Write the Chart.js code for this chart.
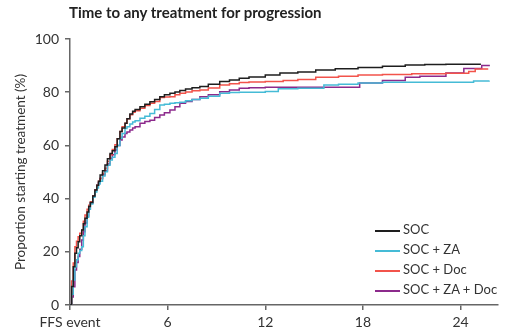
<!DOCTYPE html>
<html>
<head>
<meta charset="utf-8">
<script src="https://cdn.jsdelivr.net/npm/chart.js@4"></script>
<style>
  html, body { margin: 0; padding: 0; background: #fff; }
  #wrap { position: relative; width: 505px; height: 333px; font-family: Lato, "Open Sans", sans-serif; }
  #title { position: absolute; left: 69px; top: 3px; font-size: 15px; font-weight: bold; color: #222; }
  #legend { position: absolute; left: 375px; top: 219px; font-size: 13px; color: #333; }
  #legend div { height: 20px; line-height: 20px; white-space: nowrap; }
  #legend span.sw { display: inline-block; width: 25px; height: 2px; vertical-align: middle; margin-right: 3px; }
</style>
</head>
<body>
<div id="wrap">
  <canvas id="c" width="505" height="333"></canvas>
  <div id="title">Time to any treatment for progression</div>
  <div id="legend"></div>
</div>
<script>
// months since FFS event -> % starting treatment
const socT = [0, 0.1, 0.2, 0.3, 0.4, 0.5, 0.6, 0.72, 0.82, 0.92, 1.05, 1.15, 1.25, 1.4, 1.53, 1.65, 1.75, 1.85, 2.0, 2.15, 2.3, 2.46, 2.6, 2.76, 2.9, 3.07, 3.2, 3.38, 3.5, 3.68, 3.85, 4.0, 4.3, 4.6, 4.91, 5.2, 5.52, 5.8, 6.14, 6.45, 6.75, 7.1, 7.5, 7.98, 8.5, 9.2, 9.8, 10.4, 11.0, 12.0, 12.9, 14.0, 15.1, 16.3, 17.7, 19.2, 20.6, 21.8, 23.1, 25.25];
const socV = [0, 7, 14.4, 19.5, 21.5, 23.8, 26, 28.2, 30.5, 32.6, 35, 37, 38.5, 41, 43.2, 45, 46.5, 48.9, 50.5, 52.6, 55, 57, 58, 59.5, 62.5, 65.2, 66.5, 68.3, 70, 71.8, 72.8, 73.5, 74.5, 75.5, 76.4, 77.3, 78.3, 79, 79.6, 80.1, 80.6, 81.2, 81.7, 82.1, 83, 84, 84.6, 85.2, 85.7, 86.5, 87.2, 87.6, 88.3, 88.8, 89.3, 89.8, 90.2, 90.4, 90.5, 90.5];

const zaT = [0, 0.1, 0.2, 0.3, 0.4, 0.5, 0.6, 0.72, 0.82, 0.92, 1.05, 1.15, 1.25, 1.4, 1.53, 1.65, 1.75, 1.85, 2.0, 2.15, 2.3, 2.46, 2.6, 2.76, 2.9, 3.07, 3.2, 3.38, 3.5, 3.68, 3.85, 4.0, 4.3, 4.6, 4.91, 5.2, 5.52, 5.8, 6.14, 6.45, 6.75, 7.1, 7.5, 7.98, 8.5, 9.2, 9.8, 10.4, 11.0, 12.0, 12.8, 14.0, 15.6, 16.5, 17.7, 19.2, 23.1, 24.8, 25.75];
const zaV = [0, 4, 9.4, 14.4, 17, 19.5, 20.5, 21.9, 26, 29.4, 33, 36, 38, 40.5, 42.5, 44, 45.5, 46.5, 48.5, 50.1, 52.5, 54.5, 55.5, 57, 60, 62.7, 64.5, 66.4, 67, 68, 68.8, 69.3, 70.2, 71, 72, 73.5, 75.2, 75.5, 75.8, 76, 76.2, 76.8, 77.3, 77.7, 78.5, 79.6, 79.9, 80, 80, 80.3, 81.3, 81.5, 82.7, 83.0, 83.5, 83.7, 83.7, 84.2, 84.4];

const docT = [0, 0.1, 0.2, 0.3, 0.4, 0.5, 0.6, 0.72, 0.82, 0.92, 1.05, 1.15, 1.25, 1.4, 1.53, 1.65, 1.75, 1.85, 2.0, 2.15, 2.3, 2.46, 2.6, 2.76, 2.9, 3.07, 3.2, 3.38, 3.5, 3.68, 3.85, 4.0, 4.3, 4.6, 4.91, 5.2, 5.52, 5.8, 6.14, 6.45, 6.75, 7.1, 7.5, 7.98, 8.5, 9.2, 9.8, 10.4, 11.0, 12.0, 13.1, 14.0, 15.1, 16.5, 17.7, 19.2, 21.0, 23.1, 24.5, 24.9, 25.7];
const docV = [0, 9, 15.8, 21.9, 24, 25.7, 27, 28.2, 31.5, 33.8, 36, 37.5, 38.8, 41, 43.2, 45, 46.5, 47.6, 49.5, 51.4, 54, 56.5, 58.5, 60.2, 62.5, 65.2, 67, 68.3, 70, 71.5, 72.5, 73, 74, 75, 75.8, 76.5, 78, 78.2, 78.3, 79, 79.6, 80.1, 80.5, 80.8, 81.6, 82.7, 83.2, 83.6, 83.8, 84, 84.4, 84.8, 85.6, 86, 86.5, 86.7, 86.9, 87.1, 87.8, 88.7, 88.7];

const zaDocT = [0, 0.1, 0.2, 0.3, 0.4, 0.5, 0.6, 0.72, 0.82, 0.92, 1.05, 1.15, 1.25, 1.4, 1.53, 1.65, 1.75, 1.85, 2.0, 2.15, 2.3, 2.46, 2.6, 2.76, 2.9, 3.07, 3.2, 3.38, 3.5, 3.68, 3.85, 4.0, 4.3, 4.6, 4.91, 5.2, 5.52, 5.8, 6.14, 6.45, 6.75, 7.1, 7.5, 7.98, 8.5, 9.2, 9.8, 10.4, 11.0, 12.0, 17.7, 17.8, 19.2, 20.6, 21.5, 23.1, 24.1, 24.2, 25.3, 25.8];
const zaDocV = [0, 3, 6.9, 13.2, 16, 18.2, 21, 24.4, 27.5, 30.8, 33.5, 36, 38.3, 41, 43.2, 45, 46, 47.6, 49, 50.5, 53, 55.2, 56.5, 58.3, 60, 62, 63.2, 64.5, 65, 65.8, 66.5, 67, 68.3, 69, 69.5, 70.5, 71.4, 72.3, 73.3, 74.5, 75.8, 76.5, 77.3, 78.3, 79, 80.2, 80.8, 81.5, 81.7, 81.9, 81.9, 83.5, 84.4, 85.6, 86, 87.2, 87.2, 88.9, 90, 90];

const seriesNames = ['SOC', 'SOC + ZA', 'SOC + Doc', 'SOC + ZA + Doc'];
const seriesColors = ['#1e1e1e', '#45bbd6', '#f2534b', '#8c2a8c'];
const xTicks = [0, 6, 12, 18, 24];
const yTicks = [0, 20, 40, 60, 80, 100];

function pts(ts, vs) { return ts.map((t, i) => ({ x: t, y: vs[i] })); }

const allData = [pts(socT, socV), pts(zaT, zaV), pts(docT, docV), pts(zaDocT, zaDocV)];

const datasets = allData.map((d, i) => ({
  label: seriesNames[i],
  data: d,
  borderColor: seriesColors[i],
  borderWidth: 1.5,
  pointRadius: 0,
  stepped: 'before',
  fill: false
}));

// legend as html
const leg = document.getElementById('legend');
seriesNames.forEach((n, i) => {
  const row = document.createElement('div');
  row.innerHTML = `<span class="sw" style="background:${seriesColors[i]}"></span>${n}`;
  leg.appendChild(row);
});

const fam = 'Lato, "Open Sans", sans-serif';
const axisCol = '#666';

new Chart(document.getElementById('c').getContext('2d'), {
  type: 'line',
  data: { datasets },
  options: {
    responsive: false,
    animation: false,
    layout: { padding: { top: 39, right: 7, bottom: 0, left: 0 } },
    plugins: { legend: { display: false }, tooltip: { enabled: false } },
    scales: {
      x: {
        type: 'linear',
        min: 0, max: 26.3,
        afterBuildTicks: (s) => { s.ticks = xTicks.map(v => ({ value: v })); },
        afterFit: (s) => { s.height = 28; },
        ticks: {
          font: { family: fam, size: 14 }, color: '#333', padding: 4, maxRotation: 0,
          callback: (v) => v === 0 ? 'FFS event' : String(v)
        },
        grid: { drawOnChartArea: false, drawTicks: true, tickLength: 5, color: axisCol, lineWidth: 1.5 },
        border: { display: true, color: axisCol, width: 1.5 }
      },
      y: {
        min: 0, max: 100,
        afterBuildTicks: (s) => { s.ticks = yTicks.map(v => ({ value: v })); },
        afterFit: (s) => { s.width = 70; },
        ticks: { font: { family: fam, size: 14 }, color: '#333', padding: 6 },
        grid: { drawOnChartArea: false, drawTicks: true, tickLength: 5, color: axisCol, lineWidth: 1.5 },
        border: { display: true, color: axisCol, width: 1.5 },
        title: { display: true, text: 'Proportion starting treatment (%)', font: { family: fam, size: 13.5 }, color: '#333', padding: { top: 13, bottom: 0 } }
      }
    }
  }
});
</script>
</body>
</html>
